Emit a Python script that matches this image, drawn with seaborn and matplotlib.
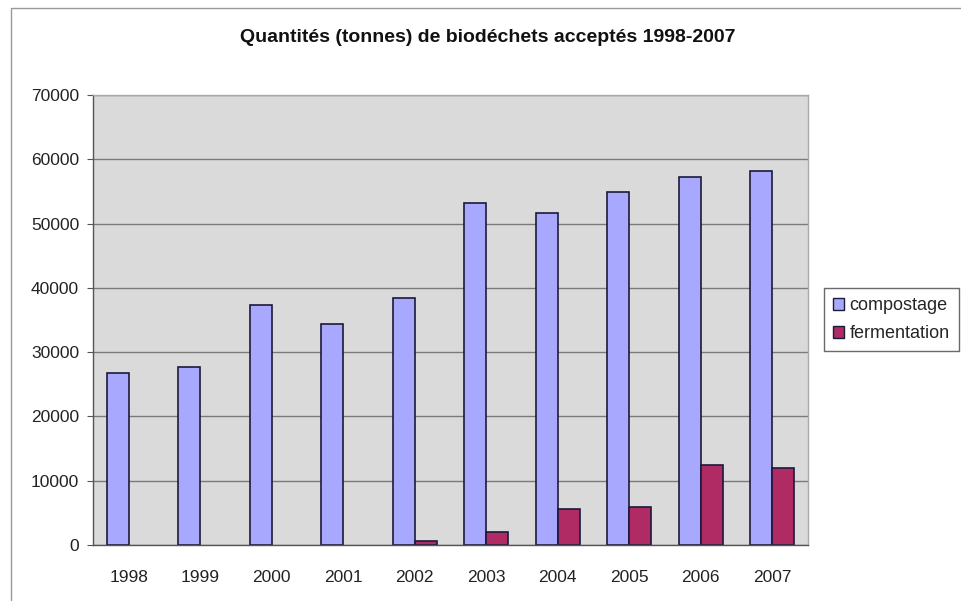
"""
Quantités de biodéchets acceptés 1998-2007, bar chart in the old Excel style.

"""
import pandas as pd
import matplotlib.pyplot as plt
import seaborn as sns
from matplotlib.patches import Rectangle

YEARS = ['1998', '1999', '2000', '2001', '2002',
         '2003', '2004', '2005', '2006', '2007']
COMPOSTAGE = [26800, 27700, 37300, 34400, 38400,
              53200, 51700, 54900, 57300, 58200]
FERMENTATION = [0, 0, 0, 0, 600,
                2000, 5600, 5900, 12400, 12000]
SERIES = ['compostage', 'fermentation']
COLORS = ['#a8a8ff', '#b02a64']
Y_TICKS = [0, 10000, 20000, 30000, 40000, 50000, 60000, 70000]


def build_data():
    """
    Long table for seaborn.

    """
    data = pd.DataFrame({
        'year': YEARS,
        'compostage': COMPOSTAGE,
        'fermentation': FERMENTATION,
    })
    data = pd.melt(data, id_vars=['year'], value_vars=SERIES,
                   var_name='serie', value_name='tonnes')
    return data


def plot(data):
    """
    Plot data.

    """
    sns.set_style('white')
    plt.rcParams['font.family'] = ['Liberation Sans', 'DejaVu Sans']

    fig = plt.figure(figsize=(9.62, 6.01), dpi=100)
    ax = fig.add_axes([0.0967, 0.0932, 0.7433, 0.7488])

    sns.barplot(
        data=data, x='year', y='tonnes', hue='serie',
        hue_order=SERIES, palette=COLORS, width=0.62,
        edgecolor='#1a1a3a', linewidth=1.2, saturation=1,
        ax=ax, legend=True,
    )

    # no outline for empty bars (no fermentation before 2002)
    for bar in ax.patches:
        if bar.get_height() == 0:
            bar.set_linewidth(0)

    ax.set_facecolor('#dadada')
    ax.set_ylim(0, 70000)
    ax.set_xlim(-0.5, len(YEARS) - 0.5)
    ax.set_yticks(Y_TICKS)
    ax.set_yticklabels([str(v) for v in Y_TICKS], fontsize=12.5, color='#222222')
    ax.yaxis.grid(True, color='#7a7a7a', linewidth=1)
    ax.set_axisbelow(True)

    # ticks between categories, labels centred
    ax.set_xticks([i - 0.5 for i in range(len(YEARS) + 1)], minor=True)
    ax.set_xticks(range(len(YEARS)))
    ax.set_xticklabels(YEARS, fontsize=12.5, color='#222222')
    ax.tick_params(axis='x', which='major', length=0, pad=18)
    ax.tick_params(axis='x', which='minor', length=4, color='#555555', direction='out')
    ax.tick_params(axis='y', length=4, color='#555555', direction='out', left=True, pad=6)

    for side in ['left', 'bottom']:
        ax.spines[side].set_color('#555555')
        ax.spines[side].set_linewidth(1)
    for side in ['top', 'right']:
        ax.spines[side].set_color('#aaaaaa')
        ax.spines[side].set_linewidth(1)

    ax.set_xlabel('')
    ax.set_ylabel('')

    fig.text(0.507, 0.937, 'Quantités (tonnes) de biodéchets acceptés 1998-2007',
             ha='center', va='center', fontsize=14, fontweight='bold', color='#111111')

    leg = ax.legend(
        loc='center left', bbox_to_anchor=(0.857, 0.468),
        bbox_transform=fig.transFigure, frameon=True, fancybox=False,
        fontsize=13, handlelength=0.6, handleheight=0.6,
        handletextpad=0.3, borderpad=0.5, labelspacing=0.6,
        edgecolor='#444444', borderaxespad=0,
    )
    leg.get_frame().set_linewidth(1)
    for handle in leg.legend_handles:
        handle.set_edgecolor('#1a1a3a')
        handle.set_linewidth(1)

    # outer chart border
    fig.patches.append(Rectangle((0.011, -0.01), 1.0, 0.997, transform=fig.transFigure,
                                 fill=False, edgecolor='#999999', linewidth=1))

    plt.savefig('out.png', dpi=100)


if __name__ == '__main__':

    data = build_data()

    plot(data)
